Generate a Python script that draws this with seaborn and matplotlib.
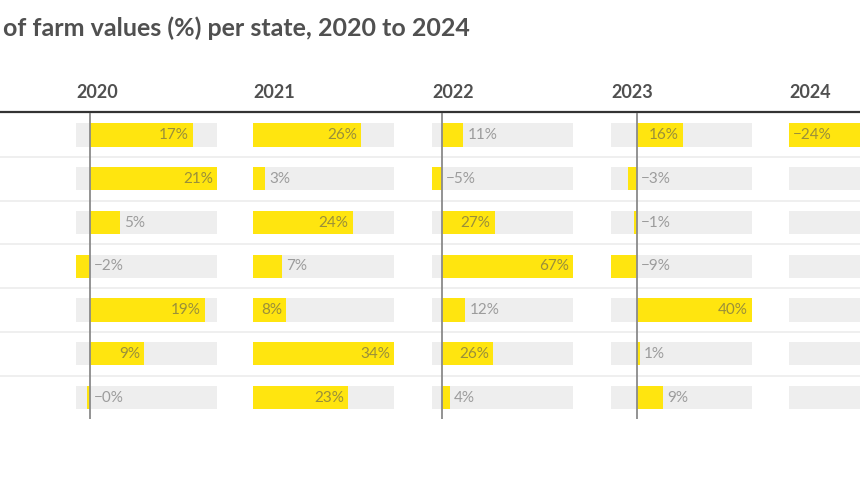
import numpy as np
import pandas as pd
import matplotlib
matplotlib.use('Agg')
import matplotlib.pyplot as plt
import seaborn as sns

sns.set_theme(style="white")
plt.rcParams['font.family'] = ['Lato', 'DejaVu Sans']

# state names are cut off on the left of the reference, rows kept as ids
rows = ['1', '2', '3', '4', '5', '6', '7']
years = ['2020', '2021', '2022', '2023', '2024']
v2020 = [17, 21, 5, -2.3, 19, 9, -0.4]
v2021 = [26, 3, 24, 7, 8, 34, 23]
v2022 = [11, -5, 27, 67, 12, 26, 4]
v2023 = [16, -3, -1, -9, 40, 1, 9]
v2024 = [-24, np.nan, np.nan, np.nan, np.nan, np.nan, np.nan]  # rest not visible
max_2024 = 20  # guess, the zero of 2024 lies outside the picture

title = "of farm values (%) per state, 2020 to 2024"

YELLOW = '#FFE50F'
GREY_BG = '#EEEEEE'

df = pd.DataFrame({'row': rows, '2020': v2020, '2021': v2021,
                   '2022': v2022, '2023': v2023, '2024': v2024})

W, H = 860, 500
fig = plt.figure(figsize=(W / 100, H / 100), dpi=100)

# background layer in pixel coords
bg = fig.add_axes([0, 0, 1, 1])
bg.set_xlim(0, W)
bg.set_ylim(H, 0)
bg.axis('off')

col_x = [76, 253, 432, 611, 789]
col_w = 141
top, band = 113.2, 43.75
bottom = top + band * len(rows)

bg.plot([0, W], [112, 112], color='#333333', lw=1.6, solid_capstyle='butt')
for k in range(1, len(rows)):
    y = top + band * k
    bg.plot([0, W], [y, y], color='#EBEBEB', lw=1.1)

bg.text(3, 28, title, fontsize=18, fontweight='bold', color='#505050',
        va='center', ha='left')

renderer = fig.canvas.get_renderer()

for x0, yr in zip(col_x, years):
    bg.text(x0, 92, yr, fontsize=13, fontweight='bold', color='#505050',
            va='center', ha='left')

    vals = df[yr].to_numpy(dtype=float)
    lo = min(0, np.nanmin(vals))
    hi = max_2024 if yr == '2024' else max(0, np.nanmax(vals))

    ax = fig.add_axes([x0 / W, 1 - bottom / H, col_w / W, band * len(rows) / H])
    ax.set_facecolor('none')
    ax.barh(range(len(rows)), width=hi - lo, left=lo, height=0.53,
            color=GREY_BG, linewidth=0, zorder=0)
    sns.barplot(data=df, x=yr, y='row', order=rows, orient='h', color=YELLOW,
                saturation=1, width=0.53, errorbar=None, linewidth=0,
                ax=ax, zorder=2)
    ax.set_xlim(lo, hi)
    ax.set_ylim(len(rows) - 0.5, -0.5)
    ax.axis('off')
    if lo < 0:
        ax.axvline(0, color='#8A8A8A', lw=1.3, zorder=4)

    ppu = col_w / (hi - lo)  # pixels per unit
    for i, v in enumerate(vals):
        if np.isnan(v):
            continue
        lab = f"{v:.0f}%".replace('-', '\u2212')
        t = ax.text(0, i, lab, fontsize=11, color='#9C9C9C', va='center',
                    ha='left', zorder=5)
        tw = t.get_window_extent(renderer).width
        bar_px = abs(v) * ppu
        if bar_px >= tw + 12:
            t.set_color('#9A8F3A')
            if v > 0:
                t.set_x(v - 4 / ppu)
                t.set_ha('right')
            else:
                t.set_x(v + 4 / ppu)
        else:
            t.set_x(max(v, 0) + 4 / ppu)

fig.savefig('out.png', dpi=100)
